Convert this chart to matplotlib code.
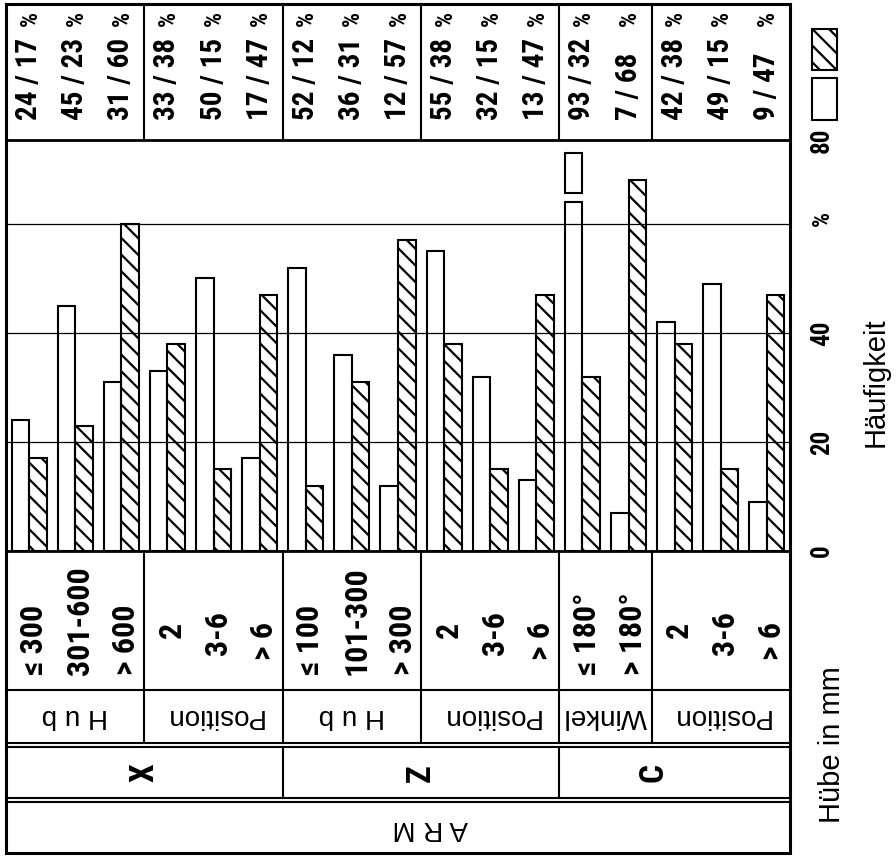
import numpy as np
import matplotlib.pyplot as plt
from matplotlib.patches import Rectangle
from matplotlib.transforms import Affine2D, blended_transform_factory

# ---- data ----
axis_names = ['X', 'Z', 'C']
group_names = ['Hub', 'Position', 'Hub', 'Position', 'Winkel', 'Position']
group_axis = [0, 0, 1, 1, 2, 2]
class_labels = [['≤ 300', '301-600', '> 600'],
                ['2', '3-6', '> 6'],
                ['≤ 100', '101-300', '> 300'],
                ['2', '3-6', '> 6'],
                ['≤ 180°', '> 180°'],
                ['2', '3-6', '> 6']]
open_pct = [24, 45, 31, 33, 50, 17, 52, 36, 12, 55, 32, 13, 93, 7, 42, 49, 9]
hatch_pct = [17, 23, 60, 38, 15, 47, 12, 31, 57, 38, 15, 47, 32, 68, 38, 15, 47]
tick_vals = [0, 20, 40]
grid_vals = [20, 40, 60]

W, H, DPI = 896, 857, 100
COND = ['Roboto Condensed', 'Liberation Sans', 'DejaVu Sans']
REG = ['Liberation Sans', 'DejaVu Sans']
plt.rcParams['hatch.linewidth'] = 1.6

fig = plt.figure(figsize=(W / DPI, H / DPI), dpi=DPI)
# pixel coords with origin top-left
px = Affine2D().scale(1 / DPI, -1 / DPI).translate(0, H / DPI) + fig.dpi_scale_trans

L, R, TOP, CT, CB = 6, 790, 4, 140, 551
ax = fig.add_axes([L / W, (H - CB) / H, (R - L) / W, (CB - CT) / H])
n = len(open_pct)
x = np.arange(n)
ax.set_xlim(-0.5, n - 0.5)
ax.set_ylim(0, 75.4)
ax.axis('off')

for g in grid_vals:
    ax.axhline(g, color='black', lw=0.9, zorder=1)

bw = 0.38
ymax = ax.get_ylim()[1]
brk_lo, brk_hi, cap = 64.0, 65.7, 73.0
for i in range(n):
    v = open_pct[i]
    if v > ymax:
        # bar cut off above the axis top
        ax.bar(x[i] - bw / 2, brk_lo, bw, facecolor='none', edgecolor='black', lw=1.5, zorder=3)
        ax.bar(x[i] - bw / 2, cap - brk_hi, bw, bottom=brk_hi, facecolor='none',
               edgecolor='black', lw=1.5, zorder=3)
    else:
        ax.bar(x[i] - bw / 2, v, bw, facecolor='none', edgecolor='black', lw=1.5, zorder=3)
ax.bar(x + bw / 2, hatch_pct, bw, facecolor='none', edgecolor='black', hatch='\\\\',
       lw=1.5, zorder=3)

bx = blended_transform_factory(ax.transData, px)   # x data, y pixels
by = blended_transform_factory(px, ax.transData)   # x pixels, y data


def hline(y, x0=L, x1=R, lw=1.5):
    fig.add_artist(plt.Line2D([x0, x1], [y, y], transform=px, color='black', lw=lw))


def vline(xd, y0, y1, lw=1.5):
    fig.add_artist(plt.Line2D([xd, xd], [y0, y1], transform=bx, color='black', lw=lw))


# frame and rows
fig.add_artist(Rectangle((L, TOP), R - L, 853 - TOP, transform=px, fill=False,
                         edgecolor='black', lw=2.2))
hline(CT, lw=2.0)
hline(CB, lw=2.0)
hline(690)
hline(743)
hline(747)
hline(798)
hline(802)

# group boundaries
sizes = [len(c) for c in class_labels]
edges = np.cumsum([0] + sizes) - 0.5
for e in edges[1:-1]:
    vline(e, TOP, CT)
    vline(e, CB, 743)
axis_edges = [edges[0]]
for k in range(1, len(group_axis)):
    if group_axis[k] != group_axis[k - 1]:
        axis_edges.append(edges[k])
        vline(edges[k], 747, 798)
axis_edges.append(edges[-1])

# top table: percentages
for i in range(n):
    ax.text(x[i], 120, f'{open_pct[i]} / {hatch_pct[i]}', transform=bx, rotation=90,
            ha='center', va='bottom', fontsize=21, fontweight='bold', family=COND)
    ax.text(x[i] + 0.02, 11, '%', transform=bx, rotation=90, ha='center', va='top',
            fontsize=17, fontweight='bold', family=COND)

# class labels
pos_y = [630, 633, 641]
i = 0
for gi, labs in enumerate(class_labels):
    for j, lab in enumerate(labs):
        if group_names[gi] == 'Position':
            ax.text(x[i] + 0.1, pos_y[j], lab, transform=bx, rotation=90, ha='center',
                    va='center', fontsize=23, fontweight='bold', family=COND)
        else:
            ax.text(x[i] + 0.1, 675, lab, transform=bx, rotation=90, ha='center',
                    va='bottom', fontsize=23, fontweight='bold', family=COND)
        i += 1
    mid = (edges[gi] + edges[gi + 1]) / 2
    name = ' '.join(group_names[gi]) if group_names[gi] == 'Hub' else group_names[gi]
    ax.text(mid, 716, name, transform=bx, rotation=180, ha='center', va='center',
            fontsize=20, family=REG)

for k, nm in enumerate(axis_names):
    mid = (axis_edges[k] + axis_edges[k + 1]) / 2
    if nm == 'C':
        mid -= 0.45
    ax.text(mid, 773, nm, transform=bx, rotation=90, ha='center', va='center',
            fontsize=24, fontweight='bold', family=COND)

fig.text(430, 828, 'A R M', transform=px, rotation=180, ha='center', va='center',
         fontsize=20, family=REG)

# value axis labels on the right
for t in tick_vals:
    ax.text(822, t, str(t), transform=by, rotation=90, ha='center', va='center',
            fontsize=18, fontweight='bold', family=COND)
ax.text(822, 61, '%', transform=by, rotation=90, ha='center', va='center',
        fontsize=17, fontweight='bold', family=COND)
ax.text(822, ymax, '80', transform=by, rotation=90, ha='center', va='center',
        fontsize=18, fontweight='bold', family=COND)
fig.text(876, 382, 'Häufigkeit', transform=px, rotation=90, ha='center', va='center',
         fontsize=21, family=REG)
fig.text(832, 745, 'Hübe in mm', transform=px, rotation=90, ha='center', va='center',
         fontsize=21, family=REG)

# legend boxes
fig.add_artist(Rectangle((812, 78), 25, 42, transform=px, fill=False,
                         edgecolor='black', lw=1.5))
fig.add_artist(Rectangle((812, 29), 25, 41, transform=px, fill=False,
                         edgecolor='black', lw=1.5, hatch='\\\\'))

fig.savefig('out.png', dpi=DPI, facecolor='white')
